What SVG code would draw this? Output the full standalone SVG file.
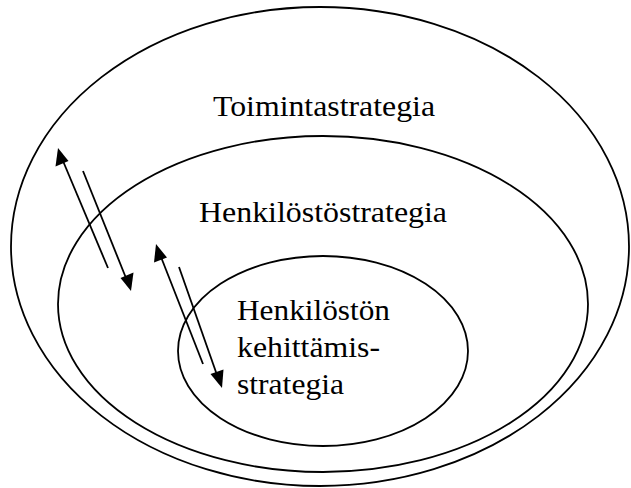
<svg xmlns="http://www.w3.org/2000/svg" width="631" height="488" viewBox="0 0 631 488">
  <style>
    .ring { fill: none; stroke: #000; stroke-width: 1.8; }
    .label { font-family: 'Liberation Serif', 'Times New Roman', serif; font-size: 30px; fill: #000; }
    .link { stroke: #000; stroke-width: 1.8; fill: none; }
    .tip { fill: #000; stroke: none; }
  </style>
  <rect width="631" height="488" fill="#fff"/>

  <g id="toimintastrategia">
    <ellipse class="ring" cx="320" cy="246.5" rx="309" ry="239.5"/>
    <text class="label" x="213" y="116" textLength="222" lengthAdjust="spacingAndGlyphs">Toimintastrategia</text>
  </g>

  <g id="henkilostostrategia">
    <ellipse class="ring" cx="323" cy="304" rx="265" ry="168"/>
    <text class="label" x="199" y="222" textLength="248" lengthAdjust="spacingAndGlyphs">Henkilöstöstrategia</text>
  </g>

  <g id="kehittamisstrategia">
    <ellipse class="ring" cx="323" cy="351" rx="145" ry="95"/>
    <text class="label" x="237" y="320" textLength="153" lengthAdjust="spacingAndGlyphs">Henkilöstön</text>
    <text class="label" x="237" y="357" textLength="143" lengthAdjust="spacingAndGlyphs">kehittämis-</text>
    <text class="label" x="237" y="394" textLength="107" lengthAdjust="spacingAndGlyphs">strategia</text>
  </g>

  <g id="connectors">
    <!-- outer pair: one arrow pointing up-left, one pointing down-right -->
    <line class="link" x1="108" y1="268" x2="63" y2="161"/>
    <polygon class="tip" points="58,148 55.5,166.5 68.5,161"/>
    <line class="link" x1="83" y1="171" x2="126" y2="278"/>
    <polygon class="tip" points="131,291 133.5,272.5 120.5,278"/>
    <!-- inner pair -->
    <line class="link" x1="203" y1="364" x2="161" y2="257"/>
    <polygon class="tip" points="156,244 154,262.5 167,257.5"/>
    <line class="link" x1="179" y1="267" x2="217" y2="375"/>
    <polygon class="tip" points="222,388 223.5,369.5 210.5,374"/>
  </g>
</svg>
